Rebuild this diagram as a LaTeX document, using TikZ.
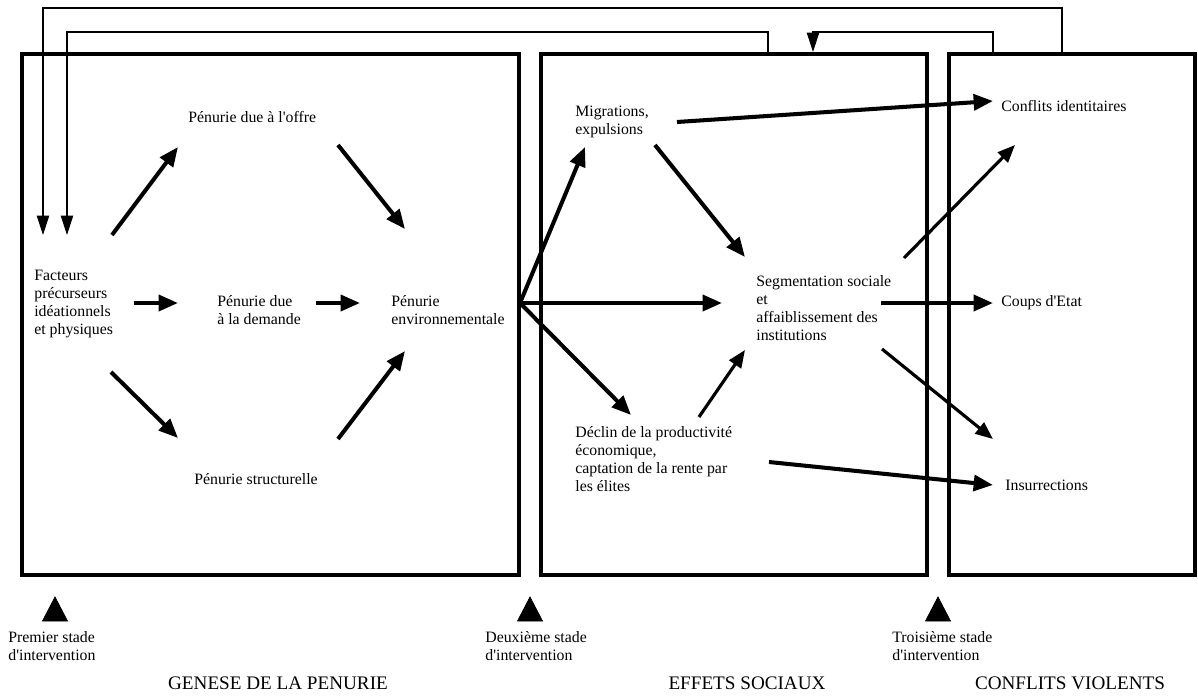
\documentclass[tikz,border=0pt]{standalone}
\usepackage{fontspec}
\setmainfont{Liberation Serif}
\usepackage{tikz}
\usetikzlibrary{arrows.meta}

\tikzset{
    cadre/.style={line width=2.3pt},
    fleche/.style={line width=2.3pt,-{Triangle[length=11pt,width=9pt]}},
    flechemoy/.style={line width=1.8pt,-{Triangle[length=10pt,width=8pt]}},
    retour/.style={line width=0.6pt,-{Triangle[length=11pt,width=7pt]}},
    txt/.style={anchor=west,inner sep=0pt,align=left,font=\fontsize{9}{10.2}\selectfont},
    titre/.style={inner sep=0pt,font=\fontsize{10.9}{13}\selectfont}
}

\begin{document}
\begin{tikzpicture}[x=0.02cm,y=-0.02cm]
        \useasboundingbox (0,0) rectangle (1198,697);

        % les trois cadres
        \draw[cadre] (22,54) rectangle (519,575);
        \draw[cadre] (541,54) rectangle (927,575);
        \draw[cadre] (949,54) rectangle (1195,575);

        % textes
        \node[txt] (offre) at (188,117) {Pénurie due à l\textquotesingle offre};
        \node[txt] (fact) at (34,304) {Facteurs\\précurseurs\\idéationnels\\et physiques};
        \node[txt] (dem) at (217,310) {Pénurie due\\à la demande};
        \node[txt] (env) at (391,310) {Pénurie\\environnementale};
        \node[txt] (struc) at (194,479) {Pénurie structurelle};
        \node[txt] (migr) at (575,122) {Migrations,\\expulsions};
        \node[txt] (segm) at (756,308) {Segmentation sociale\\et\\affaiblissement des\\institutions};
        \node[txt] (decl) at (575,459) {Déclin de la productivité\\économique,\\captation de la rente par\\les élites};
        \node[txt] (confid) at (1001,106) {Conflits identitaires};
        \node[txt] (coups) at (1001,303) {Coups d\textquotesingle Etat};
        \node[txt] (insur) at (1005,485) {Insurrections};

        % bouts des fleches
        \coordinate (fo1) at (112,235); \coordinate (fo2) at (178,147);
        \coordinate (fd1) at (134,303); \coordinate (fd2) at (178,303);
        \coordinate (fs1) at (111,372); \coordinate (fs2) at (178,438);
        \coordinate (oe1) at (338,145); \coordinate (oe2) at (405,229);
        \coordinate (de1) at (316,303); \coordinate (de2) at (360,303);
        \coordinate (se1) at (338,439); \coordinate (se2) at (405,351);
        \coordinate (e0) at (520,303);
        \coordinate (em2) at (585,147);
        \coordinate (es2) at (722,303);
        \coordinate (ed2) at (631,415);
        \coordinate (ms1) at (655,145); \coordinate (ms2) at (745,257);
        \coordinate (ds1) at (699,417); \coordinate (ds2) at (745,350);
        \coordinate (mc1) at (677,122); \coordinate (mc2) at (993,101);
        \coordinate (sc1) at (904,258); \coordinate (sc2) at (1015,145);
        \coordinate (sk1) at (881,303); \coordinate (sk2) at (993,303);
        \coordinate (si1) at (882,349); \coordinate (si2) at (993,439);
        \coordinate (di1) at (769,462); \coordinate (di2) at (993,485);

        \draw[fleche] (fo1) -- (fo2);
        \draw[fleche] (fd1) -- (fd2);
        \draw[fleche] (fs1) -- (fs2);
        \draw[fleche] (oe1) -- (oe2);
        \draw[fleche] (de1) -- (de2);
        \draw[fleche] (se1) -- (se2);
        \draw[fleche] (e0) -- (em2);
        \draw[fleche] (e0) -- (es2);
        \draw[fleche] (e0) -- (ed2);
        \draw[fleche] (ms1) -- (ms2);
        \draw[flechemoy] (ds1) -- (ds2);
        \draw[fleche] (mc1) -- (mc2);
        \draw[flechemoy] (sc1) -- (sc2);
        \draw[fleche] (sk1) -- (sk2);
        \draw[flechemoy] (si1) -- (si2);
        \draw[fleche] (di1) -- (di2);

        % retours
        \coordinate (r1) at (1062,54); \coordinate (fb1) at (43,235);
        \coordinate (r2) at (768,54);  \coordinate (fb2) at (67,235);
        \coordinate (r3) at (993,54);  \coordinate (fb3) at (813,52);
        \draw[retour] (r1) -- ++(0,-46) -| (fb1);
        \draw[retour] (r2) -- ++(0,-22) -| (fb2);
        \draw[retour] (r3) -- ++(0,-22) -| (fb3);

        % stades d'intervention
        \foreach \x in {55,530,938}
            \filldraw[black] (\x,597) -- ++(12.5,24) -- ++(-25,0) -- cycle;
        \node[txt] (stade1) at (8,646) {Premier stade\\d\textquotesingle intervention};
        \node[txt] (stade2) at (485,646) {Deuxième stade\\d\textquotesingle intervention};
        \node[txt] (stade3) at (892,646) {Troisième stade\\d\textquotesingle intervention};

        \node[titre] (genese) at (278,683) {GENESE DE LA PENURIE};
        \node[titre] (effets) at (747,683) {EFFETS SOCIAUX};
        \node[titre] (conflits) at (1070,683) {CONFLITS VIOLENTS};
    \end{tikzpicture}
\end{document}
